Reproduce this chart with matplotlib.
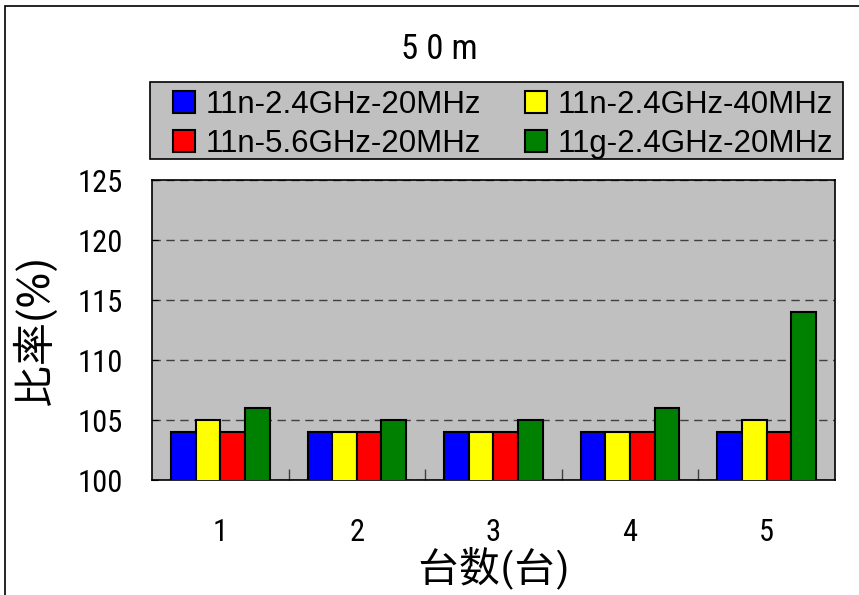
import matplotlib.pyplot as plt
import numpy as np
from matplotlib.patches import Rectangle

plt.rcParams['font.family'] = ['Roboto Condensed', 'IPAPGothic', 'DejaVu Sans']
JP = ['IPAPGothic', 'Noto Sans CJK JP']

# 台数ごとの比率(%)
units = ["1", "2", "3", "4", "5"]
series_names = ["11n-2.4GHz-20MHz", "11n-2.4GHz-40MHz", "11n-5.6GHz-20MHz", "11g-2.4GHz-20MHz"]
n24_20 = [104, 104, 104, 104, 104]
n24_40 = [105, 104, 104, 104, 105]
n56_20 = [104, 104, 104, 104, 104]
g24_20 = [106, 105, 105, 106, 114]
colors = ["#0000FF", "#FFFF00", "#FF0000", "#008000"]

fig = plt.figure(figsize=(8.59, 5.95), dpi=100)
fig.patches.append(Rectangle((0.006, -0.1), 1.2, 1.09, transform=fig.transFigure,
                             fill=False, edgecolor="black", linewidth=1.2))
ax = fig.add_axes([0.177, 0.193, 0.795, 0.504])
ax.set_facecolor("#C0C0C0")

x = np.arange(len(units))
width = 0.18
bars = []
for i, (vals, c, name) in enumerate(zip([n24_20, n24_40, n56_20, g24_20], colors, series_names)):
    b = ax.bar(x + (i - 1.5) * width, vals, width, color=c, edgecolor="black",
               linewidth=1.5, label=name, zorder=3)
    bars.append(b)

ax.set_ylim(100, 125)
ax.set_xlim(-0.5, len(units) - 0.5)
ax.set_yticks(np.arange(100, 126, 5))
ax.yaxis.grid(True, linestyle=(0, (6, 4)), color="#404040", linewidth=1.0, zorder=1)
ax.tick_params(axis="y", direction="in", length=4, labelsize=22, pad=21)
ax.set_xticks(x)
ax.set_xticklabels(units, fontsize=22)
ax.tick_params(axis="x", length=0, pad=27)
# category boundary ticks
ax.set_xticks(np.arange(0.5, len(units) - 0.5), minor=True)
ax.tick_params(axis="x", which="minor", direction="in", length=8, width=1, color="#404040")
for s in ax.spines.values():
    s.set_linewidth(1.2)

ax.set_xlabel("台数(台)", fontsize=30, family=JP, labelpad=0)
ax.set_ylabel("比率(%)", fontsize=31, family=JP)
ax.yaxis.set_label_coords(-0.14, 0.5)

fig.text(0.511, 0.916, "5 0 m", ha="center", va="center", fontsize=25)

# legend box drawn separately so it can be wider than the entries
fig.patches.append(Rectangle((0.1746, 0.7328), 0.8068, 0.1294, transform=fig.transFigure,
                             facecolor="#C0C0C0", edgecolor="black", linewidth=1.2, zorder=1))
order = [0, 2, 1, 3]
leg = fig.legend([bars[i] for i in order], [series_names[i] for i in order], ncol=2,
                 loc="upper left", bbox_to_anchor=(0.2014, 0.849), borderaxespad=0,
                 prop={'family': ['Liberation Sans'], 'size': 22.5}, frameon=False,
                 handlelength=0.7, handleheight=0.7, handletextpad=0.35,
                 columnspacing=1.4, labelspacing=0.3, borderpad=0)

fig.savefig("out.png", dpi=100)
